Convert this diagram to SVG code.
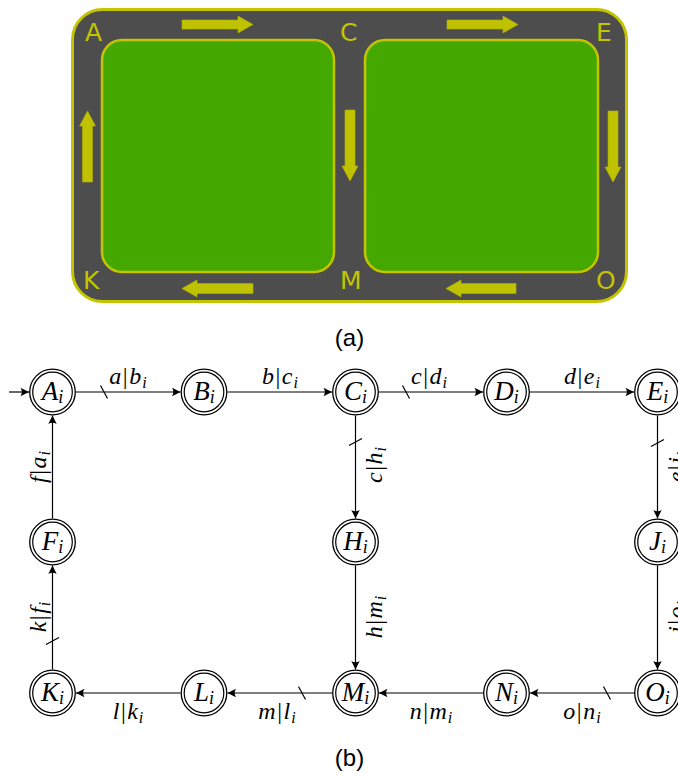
<svg xmlns="http://www.w3.org/2000/svg" width="678" height="773" viewBox="0 0 678 773">
<style>
.road{fill:#4d4d4d;stroke:#c4c400;stroke-width:3}
.field{fill:#44a800;stroke:#c4c400;stroke-width:2.5}
.arr{fill:#bfc200;stroke:#b4b400;stroke-width:0.6}
.corner{font-family:"DejaVu Sans",sans-serif;font-size:25px;fill:#c4c400}
.cap{font-family:"Liberation Sans",Arial,sans-serif;font-size:24px;fill:#000;text-anchor:middle}
.ring{fill:#fff;stroke:#000;stroke-width:1.3}
.ring2{fill:none;stroke:#000;stroke-width:1.2}
.nl{font-family:"Liberation Serif","Times New Roman",serif;font-size:27px;font-style:italic;text-anchor:middle}
.el{font-family:"Liberation Serif","Times New Roman",serif;font-size:24px;text-anchor:middle}
.it{font-style:italic}
.sub{font-style:italic;font-size:16px}
.nsub{font-style:italic;font-size:18px}
.edge{stroke:#000;stroke-width:1.2;fill:none}
.tick{stroke:#000;stroke-width:1.2}
</style>
<defs>
<marker id="ah" viewBox="-10 -6 12 12" refX="0" refY="0" markerWidth="12" markerHeight="12" markerUnits="userSpaceOnUse" orient="auto">
<path d="M0,0 L-8.5,-4.2 Q-5.8,0 -8.5,4.2 Z" fill="#000"/>
</marker>
</defs>

<g id="panel-a">
<rect class="road" x="72.5" y="9.5" width="554" height="292" rx="30"/>
<rect class="field" x="102" y="40" width="232" height="232" rx="20"/>
<rect class="field" x="365" y="40" width="233" height="232" rx="20"/>
<polygon class="arr" points="182,20 238,20 238,16 253,24.5 238,33 238,29 182,29"/>
<polygon class="arr" points="447,20 503,20 503,16 518,24.5 503,33 503,29 447,29"/>
<polygon class="arr" points="82.5,182 82.5,126 79.5,126 87.5,111 95.5,126 92.5,126 92.5,182"/>
<polygon class="arr" points="345,110 355,110 355,166 358,166 350,181 342,166 345,166"/>
<polygon class="arr" points="608,111 618,111 618,167 621,167 613,182 605,167 608,167"/>
<polygon class="arr" points="182,288.5 197,280 197,283.5 253,283.5 253,293.5 197,293.5 197,297"/>
<polygon class="arr" points="446,288.5 461,280 461,283.5 516,283.5 516,293.5 461,293.5 461,297"/>
<text class="corner" x="85" y="41">A</text>
<text class="corner" x="340" y="41">C</text>
<text class="corner" x="596" y="41">E</text>
<text class="corner" x="83" y="289">K</text>
<text class="corner" x="340" y="289">M</text>
<text class="corner" x="596" y="289">O</text>
<text class="cap" x="349.5" y="346">(a)</text>
</g>

<g id="connectors">
<line class="edge" x1="9" y1="392" x2="29" y2="392" marker-end="url(#ah)"/>
<line class="edge" x1="76" y1="392" x2="180.5" y2="392" marker-end="url(#ah)"/>
<line class="edge" x1="227.5" y1="392" x2="332" y2="392" marker-end="url(#ah)"/>
<line class="edge" x1="379" y1="392" x2="483" y2="392" marker-end="url(#ah)"/>
<line class="edge" x1="530" y1="392" x2="634" y2="392" marker-end="url(#ah)"/>
<line class="edge" x1="355.5" y1="415.5" x2="355.5" y2="518.5" marker-end="url(#ah)"/>
<line class="edge" x1="355.5" y1="565.5" x2="355.5" y2="669.5" marker-end="url(#ah)"/>
<line class="edge" x1="657.5" y1="415.5" x2="657.5" y2="518.5" marker-end="url(#ah)"/>
<line class="edge" x1="657.5" y1="565.5" x2="657.5" y2="669.5" marker-end="url(#ah)"/>
<line class="edge" x1="634" y1="693" x2="530" y2="693" marker-end="url(#ah)"/>
<line class="edge" x1="483" y1="693" x2="379" y2="693" marker-end="url(#ah)"/>
<line class="edge" x1="332" y1="693" x2="227.5" y2="693" marker-end="url(#ah)"/>
<line class="edge" x1="180.5" y1="693" x2="76" y2="693" marker-end="url(#ah)"/>
<line class="edge" x1="52.5" y1="669.5" x2="52.5" y2="565.5" marker-end="url(#ah)"/>
<line class="edge" x1="52.5" y1="518.5" x2="52.5" y2="415.5" marker-end="url(#ah)"/>
<line class="tick" x1="100.5" y1="385.5" x2="107.5" y2="398.5"/>
<line class="tick" x1="402.5" y1="385.5" x2="409.5" y2="398.5"/>
<line class="tick" x1="298.5" y1="686.5" x2="305.5" y2="699.5"/>
<line class="tick" x1="603.5" y1="686.5" x2="610.5" y2="699.5"/>
<line class="tick" x1="349" y1="445.5" x2="362" y2="438.5"/>
<line class="tick" x1="651" y1="446.5" x2="664" y2="439.5"/>
<line class="tick" x1="46" y1="644.5" x2="59" y2="637.5"/>
<text class="el" x="128" y="384"><tspan class="it">a</tspan><tspan dx="1.5">|</tspan><tspan class="it" dx="1.5">b</tspan><tspan class="sub" dx="1" dy="4">i</tspan></text>
<text class="el" x="280" y="384"><tspan class="it">b</tspan><tspan dx="1.5">|</tspan><tspan class="it" dx="1.5">c</tspan><tspan class="sub" dx="1" dy="4">i</tspan></text>
<text class="el" x="429" y="384"><tspan class="it">c</tspan><tspan dx="1.5">|</tspan><tspan class="it" dx="1.5">d</tspan><tspan class="sub" dx="1" dy="4">i</tspan></text>
<text class="el" x="582" y="384"><tspan class="it">d</tspan><tspan dx="1.5">|</tspan><tspan class="it" dx="1.5">e</tspan><tspan class="sub" dx="1" dy="4">i</tspan></text>
<text class="el" x="128" y="719"><tspan class="it">l</tspan><tspan dx="1.5">|</tspan><tspan class="it" dx="1.5">k</tspan><tspan class="sub" dx="1" dy="4">i</tspan></text>
<text class="el" x="277" y="719"><tspan class="it">m</tspan><tspan dx="1.5">|</tspan><tspan class="it" dx="1.5">l</tspan><tspan class="sub" dx="1" dy="4">i</tspan></text>
<text class="el" x="431" y="719"><tspan class="it">n</tspan><tspan dx="1.5">|</tspan><tspan class="it" dx="1.5">m</tspan><tspan class="sub" dx="1" dy="4">i</tspan></text>
<text class="el" x="582" y="719"><tspan class="it">o</tspan><tspan dx="1.5">|</tspan><tspan class="it" dx="1.5">n</tspan><tspan class="sub" dx="1" dy="4">i</tspan></text>
<text class="el" transform="translate(46,467) rotate(-90)"><tspan class="it">f</tspan><tspan dx="1.5">|</tspan><tspan class="it" dx="1.5">a</tspan><tspan class="sub" dx="1" dy="4">i</tspan></text>
<text class="el" transform="translate(46,617) rotate(-90)"><tspan class="it">k</tspan><tspan dx="1.5">|</tspan><tspan class="it" dx="1.5">f</tspan><tspan class="sub" dx="1" dy="4">i</tspan></text>
<text class="el" transform="translate(382,465) rotate(-90)"><tspan class="it">c</tspan><tspan dx="1.5">|</tspan><tspan class="it" dx="1.5">h</tspan><tspan class="sub" dx="1" dy="4">i</tspan></text>
<text class="el" transform="translate(382,617) rotate(-90)"><tspan class="it">h</tspan><tspan dx="1.5">|</tspan><tspan class="it" dx="1.5">m</tspan><tspan class="sub" dx="1" dy="4">i</tspan></text>
<text class="el" transform="translate(684,467) rotate(-90)"><tspan class="it">e</tspan><tspan dx="1.5">|</tspan><tspan class="it" dx="1.5">j</tspan><tspan class="sub" dx="1" dy="4">i</tspan></text>
<text class="el" transform="translate(684,617) rotate(-90)"><tspan class="it">j</tspan><tspan dx="1.5">|</tspan><tspan class="it" dx="1.5">o</tspan><tspan class="sub" dx="1" dy="4">i</tspan></text>
</g>

<g id="node-A"><circle class="ring" cx="52.5" cy="392" r="22.8"/><circle class="ring2" cx="52.5" cy="392" r="19.8"/><text class="nl" x="52.5" y="400">A<tspan class="nsub" dy="3">i</tspan></text></g>
<g id="node-B"><circle class="ring" cx="204" cy="392" r="22.8"/><circle class="ring2" cx="204" cy="392" r="19.8"/><text class="nl" x="204" y="400">B<tspan class="nsub" dy="3">i</tspan></text></g>
<g id="node-C"><circle class="ring" cx="355.5" cy="392" r="22.8"/><circle class="ring2" cx="355.5" cy="392" r="19.8"/><text class="nl" x="355.5" y="400">C<tspan class="nsub" dy="3">i</tspan></text></g>
<g id="node-D"><circle class="ring" cx="506.5" cy="392" r="22.8"/><circle class="ring2" cx="506.5" cy="392" r="19.8"/><text class="nl" x="506.5" y="400">D<tspan class="nsub" dy="3">i</tspan></text></g>
<g id="node-E"><circle class="ring" cx="657.5" cy="392" r="22.8"/><circle class="ring2" cx="657.5" cy="392" r="19.8"/><text class="nl" x="657.5" y="400">E<tspan class="nsub" dy="3">i</tspan></text></g>
<g id="node-F"><circle class="ring" cx="52.5" cy="542" r="22.8"/><circle class="ring2" cx="52.5" cy="542" r="19.8"/><text class="nl" x="52.5" y="550">F<tspan class="nsub" dy="3">i</tspan></text></g>
<g id="node-H"><circle class="ring" cx="355.5" cy="542" r="22.8"/><circle class="ring2" cx="355.5" cy="542" r="19.8"/><text class="nl" x="355.5" y="550">H<tspan class="nsub" dy="3">i</tspan></text></g>
<g id="node-J"><circle class="ring" cx="657.5" cy="542" r="22.8"/><circle class="ring2" cx="657.5" cy="542" r="19.8"/><text class="nl" x="657.5" y="550">J<tspan class="nsub" dy="3">i</tspan></text></g>
<g id="node-K"><circle class="ring" cx="52.5" cy="693" r="22.8"/><circle class="ring2" cx="52.5" cy="693" r="19.8"/><text class="nl" x="52.5" y="701">K<tspan class="nsub" dy="3">i</tspan></text></g>
<g id="node-L"><circle class="ring" cx="204" cy="693" r="22.8"/><circle class="ring2" cx="204" cy="693" r="19.8"/><text class="nl" x="204" y="701">L<tspan class="nsub" dy="3">i</tspan></text></g>
<g id="node-M"><circle class="ring" cx="355.5" cy="693" r="22.8"/><circle class="ring2" cx="355.5" cy="693" r="19.8"/><text class="nl" x="355.5" y="701">M<tspan class="nsub" dy="3">i</tspan></text></g>
<g id="node-N"><circle class="ring" cx="506.5" cy="693" r="22.8"/><circle class="ring2" cx="506.5" cy="693" r="19.8"/><text class="nl" x="506.5" y="701">N<tspan class="nsub" dy="3">i</tspan></text></g>
<g id="node-O"><circle class="ring" cx="657.5" cy="693" r="22.8"/><circle class="ring2" cx="657.5" cy="693" r="19.8"/><text class="nl" x="657.5" y="701">O<tspan class="nsub" dy="3">i</tspan></text></g>

<text class="cap" x="349.5" y="766">(b)</text>
</svg>
